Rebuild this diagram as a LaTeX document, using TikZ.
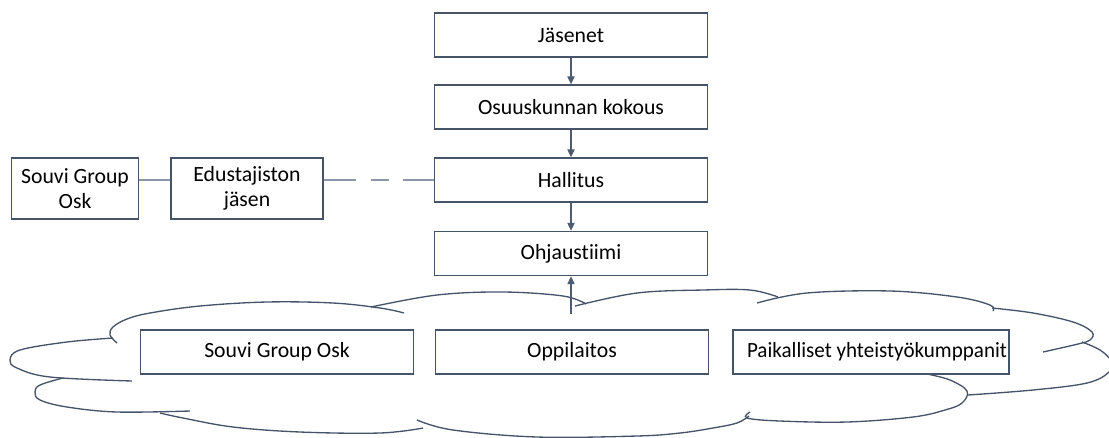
\documentclass[tikz,border=0pt]{standalone}
\usepackage{fontspec}
\usepackage{graphicx}
\setmainfont{Carlito}[Ligatures=NoCommon]
\usetikzlibrary{arrows.meta}
\definecolor{boxcol}{RGB}{70,84,106}
\definecolor{linkcol}{RGB}{140,152,170}
\definecolor{arrcol}{RGB}{78,92,114}
\tikzset{
  box/.style={draw=boxcol, line width=1.1pt, fill=white, inner sep=0pt, align=center,
    font=\fontsize{16.3}{19}\selectfont},
  colbox/.style={box, minimum width=273*0.75pt, minimum height=44*0.75pt},
  lowbox/.style={box, minimum width=273*0.75pt, minimum height=44*0.75pt},
  sidebox/.style={box, minimum height=61*0.75pt},
  flow/.style={draw=arrcol, line width=0.9pt, -{Triangle[length=6pt,width=5.5pt]}},
  link/.style={draw=linkcol, line width=0.8pt},
  lobe/.style={draw=boxcol, line width=1pt, smooth, tension=0.6},
}
\begin{document}
\begin{tikzpicture}[x=0.75pt,y=-0.75pt]
\useasboundingbox (0,0) rectangle (1109,437);
% cloud
\draw[lobe] plot coordinates {(117,343) (110,335) (113,327) (127,319) (150,313) (200,306) (267,302) (333,303) (380,308) (404,313)};
\draw[lobe] plot coordinates {(371,307) (437,295) (503,292) (563,296) (586,304)};
\draw[lobe] plot coordinates {(575,306) (637,293) (703,290) (750,290) (778,297)};
\draw[lobe] plot coordinates {(757,303) (807,293) (890,291) (957,297) (990,305) (993,311)};
\draw[lobe] plot coordinates {(992,308) (1033,313) (1073,322) (1092,332) (1090,340) (1078,344) (1043,352)};
\draw[lobe] plot coordinates {(1082,342) (1100,350) (1111,361) (1109,372) (1087,383) (1033,390) (968,395)};
\draw[lobe] plot coordinates {(927,374) (950,380) (967,391) (962,403) (945,410) (913,417) (847,422) (780,421) (747,418) (750,412)};
\draw[lobe] plot coordinates {(417,420) (453,430) (537,437) (637,436) (680,433) (713,428) (737,423) (749,416)};
\draw[lobe] plot coordinates {(160,413) (183,418) (233,427) (300,432) (380,433) (423,428)};
\draw[lobe] plot coordinates {(63,378) (40,385) (35,392) (40,400) (67,407) (117,412) (190,411)};
\draw[lobe] plot coordinates {(113,338) (67,342) (20,350) (10,360) (17,368) (50,377) (132,381)};
% column
\node[colbox] (jas) at (571,35) {Jäsenet};
\node[colbox] (osu) at (571,107) {Osuuskunnan kokous};
\node[colbox] (hal) at (571,180) {Hallitus};
\node[colbox] (ohj) at (571,253.5) {Ohjaustiimi};
% side
\node[sidebox, minimum width=127*0.75pt] (sgo) at (75,188.5) {Souvi Group\\Osk};
\node[sidebox, minimum width=152*0.75pt] (edu) at (247,188.5) {Edustajiston\\jäsen};
% bottom
\node[lowbox] (sgb) at (277,352) {Souvi Group Osk};
\node[lowbox] (opp) at (572,352) {Oppilaitos};
\node[lowbox, minimum width=276*0.75pt] (pai) at (871,352) {\hspace*{9pt}\resizebox{195pt}{\height}{Paikalliset yhteistyökumppanit}};
\coordinate (cl) at (571,314);
% connectors
\draw[flow] (jas) -- (osu);
\draw[flow] (osu) -- (hal);
\draw[flow] (hal) -- (ohj);
\draw[flow] (cl) -- (ohj);
\draw[link] (sgo.east |- 0,180) -- (edu.west |- 0,180);
\draw[link, dash pattern=on 24pt off 11.25pt on 13.5pt off 10.5pt on 30pt off 10pt] (edu.east |- 0,180) -- (hal.west |- 0,180);
\end{tikzpicture}
\end{document}
